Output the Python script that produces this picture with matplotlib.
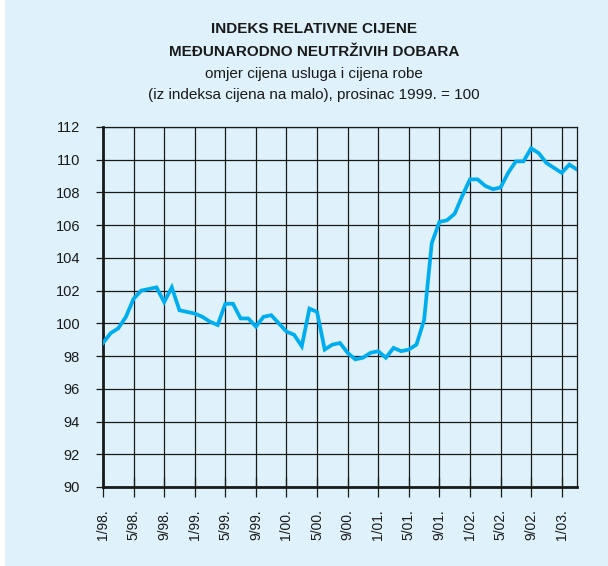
import matplotlib.pyplot as plt
from matplotlib.patches import Rectangle

# monthly index, 1/1998 .. 3/2003
values = [
    98.8, 99.4, 99.7, 100.4, 101.5, 102.0, 102.1, 102.2, 101.3, 102.2, 100.8, 100.7,  # 1998
    100.6, 100.4, 100.1, 99.9, 101.2, 101.2, 100.3, 100.3, 99.8, 100.4, 100.5, 100.0,  # 1999
    99.5, 99.3, 98.6, 100.9, 100.7, 98.4, 98.7, 98.8, 98.2, 97.8, 97.9, 98.2,          # 2000
    98.3, 97.9, 98.5, 98.3, 98.4, 98.7, 100.2, 104.9, 106.2, 106.3, 106.7, 107.8,      # 2001
    108.8, 108.8, 108.4, 108.2, 108.3, 109.2, 109.9, 109.9, 110.7, 110.4, 109.8, 109.5,  # 2002
    109.2, 109.7, 109.4,                                                               # 2003
]
tick_labels = ["1/98.", "5/98.", "9/98.", "1/99.", "5/99.", "9/99.", "1/00.", "5/00.",
               "9/00.", "1/01.", "5/01.", "9/01.", "1/02.", "5/02.", "9/02.", "1/03."]
y_ticks = [90, 92, 94, 96, 98, 100, 102, 104, 106, 108, 110, 112]

bg = "#dff1fb"
plt.rcParams["font.family"] = ["Liberation Sans", "DejaVu Sans"]

fig = plt.figure(figsize=(6.08, 5.66), dpi=100, facecolor="white")
fig.patches.append(Rectangle((5 / 608, 0), 1, 1, transform=fig.transFigure,
                             facecolor=bg, edgecolor="none", zorder=-1))

ax = fig.add_axes([103 / 608, 1 - 487 / 566, 474 / 608, 360 / 566])
ax.set_facecolor(bg)

x = list(range(len(values)))
ax.plot(x, values, color="#00aeef", linewidth=2.7, solid_joinstyle="miter", zorder=3)

ax.set_xlim(0, len(values) - 1)
ax.set_ylim(90, 112)
ax.set_yticks(y_ticks)
ax.set_xticks(range(0, 4 * len(tick_labels), 4))
ax.set_xticklabels(tick_labels, rotation=90, va="top")

ax.grid(True, color="#1a1a1a", linewidth=0.9)
ax.tick_params(axis="y", direction="out", length=5, width=0.9, pad=11.5, labelsize=10.5,
               colors="#1a1a1a")
ax.tick_params(axis="x", direction="inout", length=14, width=0.9, pad=9, labelsize=10,
               colors="#1a1a1a")
for side in ["top", "right"]:
    ax.spines[side].set_linewidth(0.9)
    ax.spines[side].set_color("#1a1a1a")
for side in ["left", "bottom"]:
    ax.spines[side].set_linewidth(2.0)
    ax.spines[side].set_color("#1a1a1a")

cx = 314 / 608
fig.text(cx, 1 - 29 / 566, "INDEKS RELATIVNE CIJENE", ha="center", va="center",
         fontsize=11, fontweight="bold", color="#1a1a1a")
fig.text(cx, 1 - 52 / 566, "MEĐUNARODNO NEUTRŽIVIH DOBARA", ha="center", va="center",
         fontsize=11, fontweight="bold", color="#1a1a1a")
fig.text(cx, 1 - 74 / 566, "omjer cijena usluga i cijena robe", ha="center", va="center",
         fontsize=11, color="#1a1a1a")
fig.text(cx, 1 - 95 / 566, "(iz indeksa cijena na malo), prosinac 1999. = 100", ha="center",
         va="center", fontsize=11, color="#1a1a1a")

fig.savefig("out.png", dpi=100, facecolor="white")
